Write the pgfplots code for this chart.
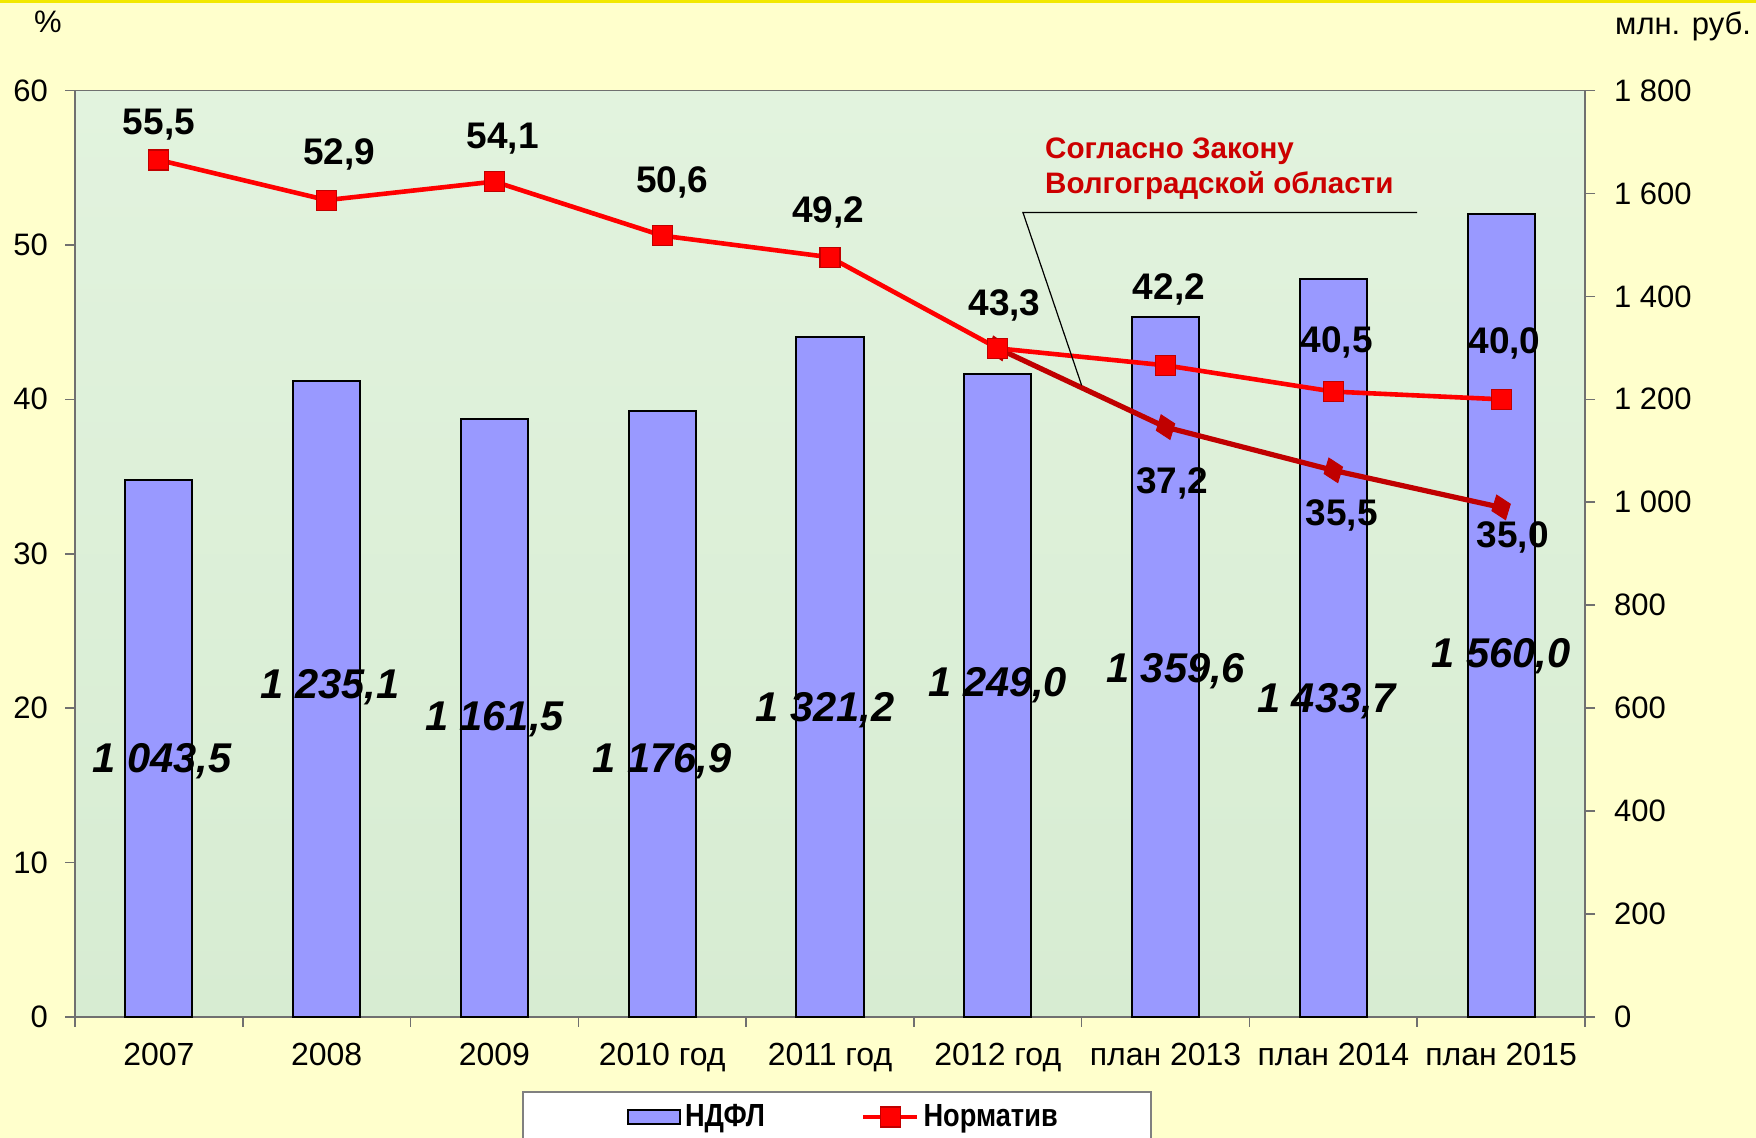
\documentclass[border=0pt]{standalone}
\usepackage{fontspec}
\setmainfont{Liberation Sans}
\usepackage{pgfplots}
\pgfplotsset{compat=1.18}
\definecolor{bgyellow}{HTML}{FFFFCC}
\definecolor{topyellow}{HTML}{F2E800}
\definecolor{plotgreenT}{HTML}{E2F3DE}
\definecolor{plotgreenB}{HTML}{D7ECD2}
\definecolor{barblue}{HTML}{9999FF}
\definecolor{darkred}{HTML}{C00000}
\definecolor{annred}{HTML}{CC0000}
\definecolor{framegray}{HTML}{707070}
\newcommand\tickfont{\fontsize{15.5}{18}\selectfont}
\newcommand\xtickfont{\fontsize{16}{19}\selectfont}
\newcommand\valfont{\fontsize{18.5}{21}\selectfont\bfseries}
\newcommand\barfont{\fontsize{20.8}{24}\selectfont\bfseries\itshape}
\begin{document}
\begin{tikzpicture}
\fill[bgyellow] (0,0) rectangle (878pt,569pt);
\path[use as bounding box] (0,0) rectangle (878pt,569pt);
\fill[topyellow] (0,567.5pt) rectangle (878pt,569pt);
% legend frame
\draw[gray, line width=0.6pt, fill=white] (261.5pt,23pt) rectangle (575.5pt,-3pt);
% units labels
\node[anchor=base, font=\tickfont] at (24pt,552.5pt) {\%};
\node[anchor=base east, font=\tickfont] at (879pt,551.5pt) {млн. руб.};

% ---------- bars (right axis) ----------
\begin{axis}[
  at={(37.5pt,60.5pt)}, anchor=south west,
  scale only axis, width=755pt, height=463.25pt,
  xmin=-0.5, xmax=8.5, ymin=0, ymax=1800,
  clip=false,
  axis background/.style={top color=plotgreenT, bottom color=plotgreenB},
  axis line style={draw=framegray, line width=0.8pt},
  tick align=outside,
  major tick length=0pt, minor tick length=5pt,
  every tick/.style={draw=framegray, line width=0.8pt},
  xtick={0,...,8},
  xticklabels={2007,2008,2009,2010 год,2011 год,2012 год,план 2013,план 2014,план 2015},
  minor xtick={-0.5,0.5,...,8.5},
  xtick pos=bottom,
  ytick={0,200,...,1800},
  yticklabels={0,200,400,600,800,1 000,1 200,1 400,1 600,1 800},
  minor ytick={0,200,...,1800},
  ytick pos=right, yticklabel pos=right,
  yticklabel style={font=\tickfont, xshift=11pt},
  xticklabel style={font=\xtickfont, yshift=-9.5pt},
]
\addplot[ybar, bar width=0.4, fill=barblue, draw=black, line width=1pt]
  coordinates {(0,1043.5) (1,1235.1) (2,1161.5) (3,1176.9) (4,1321.2) (5,1249.0) (6,1359.6) (7,1433.7) (8,1560.0)};
\node[font=\barfont] at (axis cs:0.02,496) {1 043,5};
\node[font=\barfont] at (axis cs:1.02,640) {1 235,1};
\node[font=\barfont] at (axis cs:2.0,579) {1 161,5};
\node[font=\barfont] at (axis cs:3.0,496) {1 176,9};
\node[font=\barfont] at (axis cs:3.97,596) {1 321,2};
\node[font=\barfont] at (axis cs:5.0,644) {1 249,0};
\node[font=\barfont] at (axis cs:6.06,672) {1 359,6};
\node[font=\barfont] at (axis cs:6.96,614) {1 433,7};
\node[font=\barfont] at (axis cs:8.0,701) {1 560,0};
\end{axis}

% ---------- lines (left axis) ----------
\begin{axis}[
  at={(37.5pt,60.5pt)}, anchor=south west,
  scale only axis, width=755pt, height=463.25pt,
  xmin=-0.5, xmax=8.5, ymin=0, ymax=60,
  clip=false,
  axis y line*=left, axis x line=none,
  axis line style={draw=framegray, line width=0.8pt},
  tick align=outside, major tick length=5pt,
  every tick/.style={draw=framegray, line width=0.8pt},
  xtick=\empty,
  ytick={0,10,...,60},
  yticklabels={0,10,20,30,40,50,60},
  yticklabel style={font=\tickfont, xshift=-5pt},
  legend columns=2,
  legend style={at={(rel axis cs:0.5095,-0.108)}, anchor=center, draw=none, fill=none,
    font=\fontsize{16}{19}\selectfont\bfseries,
    /tikz/every even column/.append style={column sep=46pt}},
  legend cell align=left,
  legend image code/.code={\draw[mark repeat=2,mark phase=2,#1] plot coordinates {(0pt,0pt) (13.5pt,0pt) (27pt,0pt)};},
]
\addlegendimage{legend image code/.code={\draw[fill=barblue, draw=black, line width=1pt] (0pt,-3.5pt) rectangle (26pt,3.5pt);}}
\addlegendentry{\scalebox{0.85}[1]{НДФЛ}}
\addplot[color=darkred, line width=2.6pt, mark=diamond*, mark size=6.5pt,
  mark options={fill=darkred, draw=darkred, line width=0.5pt, rotate=20}, forget plot]
  coordinates {(5,43.3) (6,38.2) (7,35.4) (8,33.0)};
\addplot[color=red, line width=2.3pt, mark=square*, mark size=5pt,
  mark options={fill=red, draw=darkred, line width=0.6pt}]
  coordinates {(0,55.5) (1,52.9) (2,54.1) (3,50.6) (4,49.2) (5,43.3) (6,42.2) (7,40.5) (8,40.0)};
\addlegendentry{\scalebox{0.85}[1]{Норматив}}
\node[font=\valfont] at (axis cs:0,57.8) {55,5};
\node[font=\valfont] at (axis cs:1.075,55.86) {52,9};
\node[font=\valfont] at (axis cs:2.05,56.88) {54,1};
\node[font=\valfont] at (axis cs:3.06,54.05) {50,6};
\node[font=\valfont] at (axis cs:3.99,52.09) {49,2};
\node[font=\valfont] at (axis cs:5.04,46.07) {43,3};
\node[font=\valfont] at (axis cs:6.02,47.09) {42,2};
\node[font=\valfont] at (axis cs:7.02,43.68) {40,5};
\node[font=\valfont] at (axis cs:8.02,43.60) {40,0};
\node[font=\valfont] at (axis cs:6.04,34.53) {37,2};
\node[font=\valfont] at (axis cs:7.05,32.50) {35,5};
\node[font=\valfont] at (axis cs:8.07,31.05) {35,0};
\draw[black, line width=0.6pt] (axis cs:7.50,52.1) -- (axis cs:5.15,52.1) -- (axis cs:5.5,40.9);
\node[anchor=west, align=left, text=annred, font=\fontsize{14.8}{17.5}\selectfont\bfseries, inner sep=0pt]
  at (axis cs:5.28,54.95) {Согласно Закону\\Волгоградской области};
\end{axis}
\end{tikzpicture}
\end{document}
